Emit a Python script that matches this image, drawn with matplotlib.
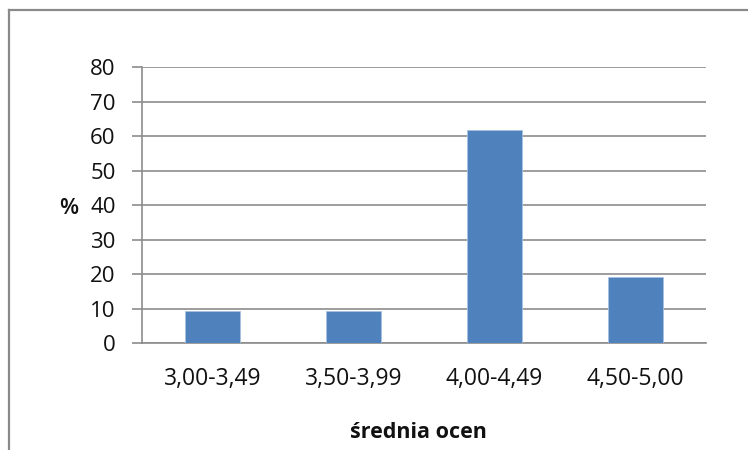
import matplotlib
matplotlib.use("Agg")
import matplotlib.pyplot as plt
from matplotlib.lines import Line2D

# share of students per grade-average bracket (%)
categories = ["3,00-3,49", "3,50-3,99", "4,00-4,49", "4,50-5,00"]
percent = [9.4, 9.4, 61.8, 19.1]
y_ticks = [0, 10, 20, 30, 40, 50, 60, 70, 80]

BAR = "#4F81BD"
GRID = "#8C8C8C"
TXT = "#111111"
plt.rcParams["font.family"] = ["Open Sans", "DejaVu Sans"]

fig = plt.figure(figsize=(7.48, 4.5), dpi=100)
ax = fig.add_axes([142 / 748, 1 - 343.3 / 450, (706 - 142) / 748, (343.3 - 67.3) / 450])

x = range(len(categories))
ax.bar(x, percent, width=0.39, color=BAR, edgecolor="#A9C1E0", linewidth=0.6, zorder=3)

ax.set_xlim(-0.5, len(categories) - 0.5)
ax.set_ylim(0, 80)
ax.set_yticks(y_ticks)
ax.set_xticks(list(x))
ax.set_xticklabels(categories)
ax.yaxis.grid(True, color=GRID, lw=1.2, zorder=0)
ax.set_axisbelow(True)

for s in ("top", "right"):
    ax.spines[s].set_visible(False)
for s in ("left", "bottom"):
    ax.spines[s].set_color(GRID)
    ax.spines[s].set_linewidth(1.2)

ax.tick_params(axis="y", length=7, width=1.2, color=GRID, pad=12, labelsize=16, labelcolor=TXT)
ax.tick_params(axis="x", length=0, pad=17, labelsize=16.5, labelcolor=TXT)

ax.set_xlabel("średnia ocen", fontsize=15.5, fontweight="bold", color=TXT, va="center")
ax.xaxis.set_label_coords(0.49, -0.325)
ax.set_ylabel("%", fontsize=16, fontweight="semibold", color=TXT, rotation=0, va="center", ha="center")
ax.yaxis.set_label_coords(-0.13, 0.49)

# outer chart frame (left and top edges)
fig.add_artist(Line2D([8.5 / 748, 8.5 / 748], [0, 1 - 10 / 450], color="#8A8A8A", lw=1.6,
                      transform=fig.transFigure))
fig.add_artist(Line2D([8.5 / 748, 1], [1 - 10 / 450, 1 - 10 / 450], color="#8A8A8A", lw=1.6,
                      transform=fig.transFigure))

fig.savefig("out.png", dpi=100)
